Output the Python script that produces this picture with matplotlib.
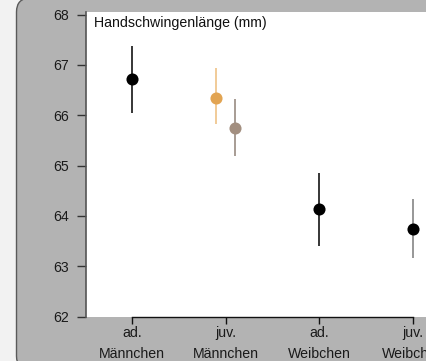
import matplotlib
matplotlib.use("Agg")
import matplotlib.pyplot as plt
from matplotlib.patches import FancyBboxPatch

plt.rcParams["font.family"] = ["Liberation Sans", "DejaVu Sans"]

categories = ["ad.\nMännchen", "juv.\nMännchen", "ad.\nWeibchen", "juv.\nWeibchen"]

# one entry per point: category index, offset within category, mean, lower, upper
point_cat = [0, 1, 1, 2, 3]
point_offset = [0.0, -0.10, 0.10, 0.0, 0.0]
means = [66.72, 66.35, 65.74, 64.14, 63.75]
lower = [66.04, 65.83, 65.19, 63.40, 63.17]
upper = [67.38, 66.93, 66.32, 64.85, 64.34]
dot_colors = ["#000000", "#e2a452", "#a38f80", "#000000", "#000000"]
bar_colors = ["#000000", "#eebd7c", "#8f8176", "#000000", "#7a7a7a"]

title = "Handschwingenlänge (mm)"
y_ticks = [62, 63, 64, 65, 66, 67, 68]

fig = plt.figure(figsize=(4.27, 3.61), dpi=100)
fig.patch.set_facecolor("#f2f2f2")

# background panel in pixel units
bg = fig.add_axes([0, 0, 1, 1])
bg.set_xlim(0, 427)
bg.set_ylim(361, 0)
bg.axis("off")
bg.add_patch(FancyBboxPatch((16.5, -2), 440, 372,
                            boxstyle="round,pad=0,rounding_size=14",
                            facecolor="#b3b3b3", edgecolor="#5a5a5a", linewidth=1.0))

ax = fig.add_axes([86 / 427, (361 - 316.7) / 361, (427 - 86) / 427, (316.7 - 12) / 361])
ax.set_facecolor("white")

for c, off, m, lo, hi, dc, bc in zip(point_cat, point_offset, means, lower, upper,
                                     dot_colors, bar_colors):
    x = c + off
    ax.plot([x, x], [lo, hi], color=bc, linewidth=1.1, solid_capstyle="butt", zorder=2)
    ax.plot([x], [m], "o", color=dc, markersize=8.7, markeredgewidth=0, zorder=3)

ax.set_xlim(-0.491, 3.149)
ax.set_ylim(62, 68.05)
ax.set_xticks(range(len(categories)))
ax.set_xticklabels(categories, fontsize=10.2, color="#1a1a1a", linespacing=1.6)
ax.set_yticks(y_ticks)
ax.set_yticklabels([str(t) for t in y_ticks], fontsize=10.2, color="#1a1a1a")

ax.tick_params(axis="y", length=6.5, width=1, color="#333333", pad=6.0)
ax.tick_params(axis="x", length=5, width=1, color="#111111", pad=2.0)

for s in ["top", "right"]:
    ax.spines[s].set_visible(False)
ax.spines["left"].set_color("#555555")
ax.spines["left"].set_linewidth(1.2)
ax.spines["bottom"].set_color("#111111")
ax.spines["bottom"].set_linewidth(1.0)
ax.spines["bottom"].set_bounds(0, 3)

ax.text((94 - 86) / 341, (316.7 - 16.5) / 304.7, title, transform=ax.transAxes,
        ha="left", va="top", fontsize=10.2, color="#111111")

fig.savefig("out.png", dpi=100, facecolor=fig.get_facecolor())
